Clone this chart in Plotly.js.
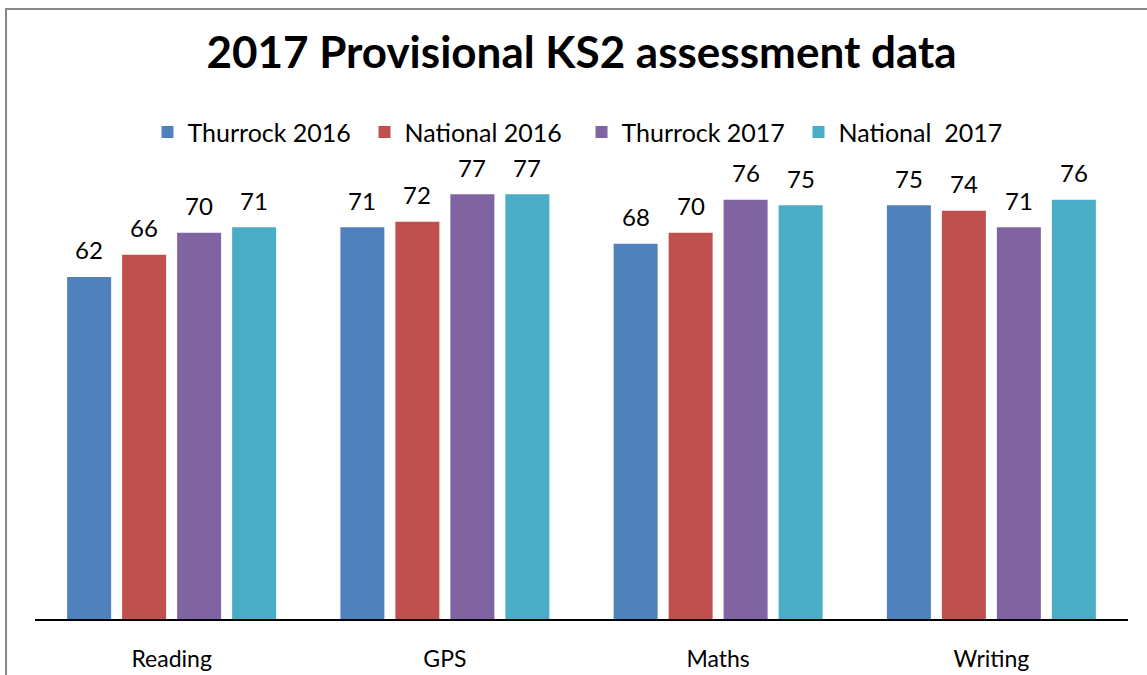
<!DOCTYPE html>
<html>
<head>
<meta charset="utf-8">
<script src="https://cdn.plot.ly/plotly-3.0.1.min.js"></script>
<style>
html,body{margin:0;padding:0;background:#fff;}
#chart{width:1147px;height:675px;}
</style>
</head>
<body>
<div id="chart"></div>
<script>
const categories = ["Reading", "GPS", "Maths", "Writing"];
const seriesNames = ["Thurrock 2016", "National 2016", "Thurrock 2017", "National  2017"];
const thurrock2016 = [62, 71, 68, 75];
const national2016 = [66, 72, 70, 74];
const thurrock2017 = [70, 77, 76, 71];
const national2017 = [71, 77, 75, 76];
const colors = ["#4F81BD", "#C0504D", "#8064A2", "#4BACC6"];

const seriesValues = [thurrock2016, national2016, thurrock2017, national2017];
const FONT = "Lato, 'Open Sans', sans-serif";
const SLOT_PX = 55; // width of one bar slot within a group

const traces = seriesValues.map((vals, i) => ({
  type: "bar",
  name: seriesNames[i],
  x: categories,
  y: vals,
  marker: {color: colors[i]},
  hoverinfo: "x+y+name"
}));

// value labels placed on the bars through the axis scales
const annotations = [];
seriesValues.forEach((vals, i) => {
  vals.forEach((v, j) => {
    annotations.push({
      x: categories[j], y: v, xref: "x", yref: "y",
      text: String(v), showarrow: false,
      xshift: (i - 1.5) * SLOT_PX, yshift: 27,
      xanchor: "center", yanchor: "middle",
      font: {family: FONT, size: 24, color: "#000"}
    });
  });
});

const layout = {
  width: 1147,
  height: 675,
  margin: {l: 35, r: 19, t: 150, b: 56},
  paper_bgcolor: "#fff",
  plot_bgcolor: "#fff",
  barmode: "group",
  bargap: 0.195,
  bargroupgap: 0.2,
  showlegend: true,
  title: {
    text: "<b>2017 Provisional KS2 assessment data</b>",
    font: {family: FONT, size: 44, color: "#000"},
    x: 0.507, xanchor: "center",
    y: 0.922, yanchor: "middle"
  },
  legend: {
    orientation: "h",
    x: 0.5, xanchor: "center",
    y: 1.038, yanchor: "middle",
    font: {family: FONT, size: 25, color: "#000"},
    entrywidth: 172,
    itemclick: false,
    traceorder: "normal"
  },
  xaxis: {
    showline: true,
    linecolor: "#000",
    linewidth: 2,
    showgrid: false,
    zeroline: false,
    ticks: "",
    ticklabelstandoff: 18,
    tickfont: {family: FONT, size: 23, color: "#000"}
  },
  yaxis: {
    range: [0, 85],
    visible: false,
    showgrid: false,
    zeroline: false
  },
  annotations: annotations,
  shapes: [{
    type: "rect",
    xref: "paper", yref: "paper",
    x0: -0.0265, x1: 1.2, y0: -0.5, y1: 1.3006,
    line: {color: "#868686", width: 2},
    fillcolor: "rgba(0,0,0,0)",
    layer: "below"
  }]
};

Plotly.newPlot("chart", traces, layout, {displayModeBar: false, staticPlot: true});
</script>
</body>
</html>
